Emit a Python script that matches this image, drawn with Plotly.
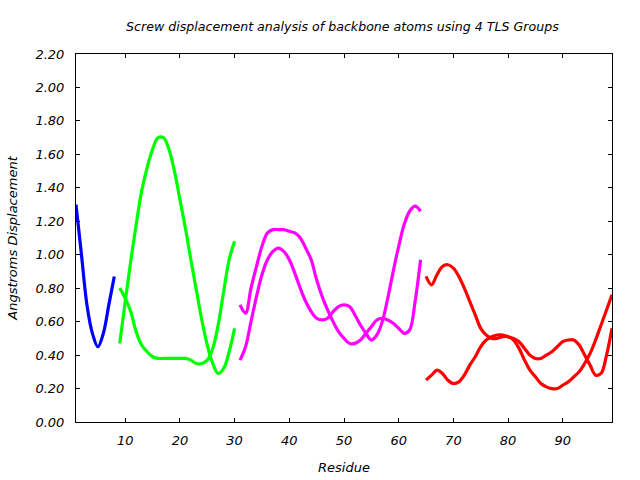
import plotly.graph_objects as go

# Group 1 (blue)
res_g1 = [1, 2, 3, 4, 5, 6, 7, 8]
g1_a = [1.30, 1.00, 0.70, 0.53, 0.45, 0.53, 0.70, 0.87]

# Group 2 (green)
res_g2 = list(range(9, 31))
g2_a = [0.47, 0.72, 0.96, 1.18, 1.38, 1.52, 1.63, 1.70, 1.70, 1.63, 1.50,
        1.33, 1.16, 0.97, 0.79, 0.61, 0.46, 0.35, 0.29, 0.32, 0.42, 0.56]
g2_b = [0.80, 0.74, 0.66, 0.54, 0.46, 0.42, 0.39, 0.38, 0.38, 0.38, 0.38,
        0.38, 0.38, 0.37, 0.35, 0.35, 0.37, 0.44, 0.58, 0.78, 0.97, 1.08]

# Group 3 (magenta)
res_g3 = list(range(31, 65))
g3_a = [0.70, 0.65, 0.80, 0.93, 1.05, 1.13, 1.15, 1.15, 1.15, 1.14, 1.13,
        1.10, 1.04, 0.97, 0.85, 0.75, 0.67, 0.60, 0.54, 0.50, 0.47, 0.47,
        0.49, 0.53, 0.57, 0.61, 0.62, 0.61, 0.59, 0.56, 0.53, 0.55, 0.72, 0.97]
g3_b = [0.37, 0.45, 0.60, 0.75, 0.88, 0.97, 1.02, 1.04, 1.02, 0.97, 0.89,
        0.80, 0.72, 0.66, 0.62, 0.61, 0.62, 0.66, 0.69, 0.70, 0.69, 0.64,
        0.58, 0.53, 0.49, 0.52, 0.60, 0.74, 0.90, 1.05, 1.18, 1.26, 1.29, 1.26]

# Group 4 (red)
res_g4 = list(range(65, 100))
g4_a = [0.87, 0.82, 0.88, 0.93, 0.94, 0.92, 0.87, 0.80, 0.72, 0.64, 0.56,
        0.52, 0.50, 0.50, 0.51, 0.51, 0.49, 0.44, 0.37, 0.31, 0.27, 0.23,
        0.21, 0.20, 0.20, 0.22, 0.24, 0.27, 0.30, 0.35, 0.41, 0.49, 0.58,
        0.67, 0.76]
g4_b = [0.25, 0.28, 0.31, 0.29, 0.25, 0.23, 0.24, 0.28, 0.34, 0.39, 0.45,
        0.49, 0.51, 0.52, 0.52, 0.51, 0.50, 0.48, 0.44, 0.40, 0.38, 0.38,
        0.40, 0.42, 0.45, 0.48, 0.49, 0.49, 0.46, 0.40, 0.34, 0.28, 0.29,
        0.40, 0.56]

x_ticks = [10, 20, 30, 40, 50, 60, 70, 80, 90]
y_ticks = [0.0, 0.2, 0.4, 0.6, 0.8, 1.0, 1.2, 1.4, 1.6, 1.8, 2.0, 2.2]

series = [
    (res_g1, g1_a, "#0000ff"),
    (res_g2, g2_a, "#00ff00"),
    (res_g2, g2_b, "#00ff00"),
    (res_g3, g3_a, "#ff00ff"),
    (res_g3, g3_b, "#ff00ff"),
    (res_g4, g4_a, "#ff0000"),
    (res_g4, g4_b, "#ff0000"),
]

fig = go.Figure()
for xs, ys, col in series:
    fig.add_trace(go.Scatter(x=xs, y=ys, mode="lines",
                             line=dict(color=col, width=3.2, shape="spline", smoothing=1.0),
                             showlegend=False, hoverinfo="skip"))

font_family = "DejaVu Sans"
fs = 13
fig.update_layout(
    width=640, height=480,
    margin=dict(l=76, r=28, t=54, b=58),
    paper_bgcolor="white", plot_bgcolor="white",
    font=dict(family=font_family, size=fs, color="black", style="italic"),
    title=dict(text="Screw displacement analysis of backbone atoms using 4 TLS Groups",
               x=0.535, xanchor="center", y=0.945, yanchor="middle",
               font=dict(family=font_family, size=12.6, color="black", style="italic")),
)
fig.update_xaxes(
    range=[1, 99], tickvals=x_ticks, ticktext=[str(v) for v in x_ticks],
    showline=True, linecolor="black", linewidth=1, mirror="ticks",
    ticks="inside", ticklen=4, tickcolor="black", showgrid=False, zeroline=False,
    ticklabelstandoff=6, automargin=False,
    tickfont=dict(family=font_family, size=fs, style="italic"),
    title=dict(text="Residue", standoff=16,
               font=dict(family=font_family, size=fs, style="italic")),
)
fig.update_yaxes(
    range=[0, 2.2], tickvals=y_ticks, ticktext=["%.2f" % v for v in y_ticks],
    showline=True, linecolor="black", linewidth=1, mirror="ticks",
    ticks="inside", ticklen=4, tickcolor="black", showgrid=False, zeroline=False,
    ticklabelstandoff=8, automargin=False,
    tickfont=dict(family=font_family, size=fs, style="italic"),
    title=dict(text="Angstroms Displacement", standoff=14,
               font=dict(family=font_family, size=fs, style="italic")),
)

fig.write_html("out.html")
